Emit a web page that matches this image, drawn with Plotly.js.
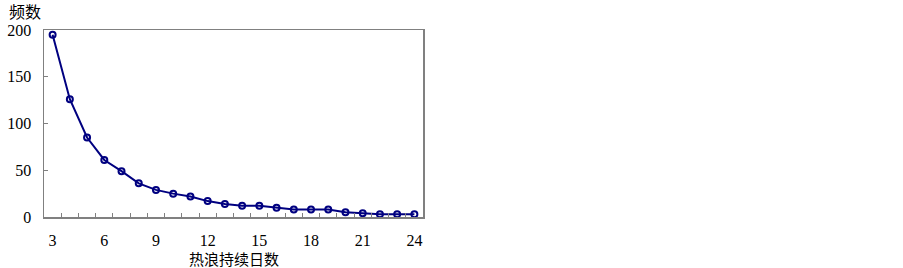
<!DOCTYPE html>
<html>
<head>
<meta charset="utf-8">
<script src="https://cdn.plot.ly/plotly-3.0.1.min.js"></script>
<style>html,body{margin:0;padding:0;background:#fff;}#chart{width:903px;height:268px;}</style>
</head>
<body>
<div id="chart"></div>
<script>
// Heat wave duration (days) and frequency
const durationDays = [3,4,5,6,7,8,9,10,11,12,13,14,15,16,17,18,19,20,21,22,23,24];
const frequency    = [195,126,85,61,49,36,29,25,22,17,14,12,12,10,8,8,8,5,4,3,3,3];
const xTickLabels  = ['3','6','9','12','15','18','21','24'];
const yTickLabels  = ['0','50','100','150','200'];
const xTitle = '热浪持续日数';
const yTitle = '频数';

const FONT = '"Liberation Serif", "Noto Sans CJK SC", serif';
const CJK = '"Noto Sans CJK SC", sans-serif';

const trace = {
  x: durationDays,
  y: frequency,
  type: 'scatter',
  mode: 'lines+markers',
  line: {color: '#000080', width: 2},
  marker: {symbol: 'circle-open', size: 6, color: '#000080', line: {width: 2, color: '#000080'}},
  hoverinfo: 'skip'
};

const layout = {
  width: 903, height: 268,
  margin: {l: 44, r: 480, t: 30, b: 51, pad: 0},
  paper_bgcolor: '#ffffff', plot_bgcolor: '#ffffff',
  showlegend: false,
  font: {family: FONT, size: 15, color: '#000'},
  xaxis: {
    range: [2.5, 24.5],
    tickmode: 'array',
    tickvals: xTickLabels.map(Number),
    ticktext: xTickLabels,
    ticks: '',
    ticklabelstandoff: 8,
    showgrid: false, zeroline: false,
    showline: true, mirror: true, linecolor: '#808080', linewidth: 1.5,
    tickfont: {family: FONT, size: 16, color: '#000'},
    minor: {tickmode: 'array', tickvals: durationDays.map(d => d + 0.5), ticks: 'inside', ticklen: 4, tickcolor: '#808080', tickwidth: 1, showgrid: false},
    fixedrange: true
  },
  yaxis: {
    range: [0, 200],
    tickmode: 'array',
    tickvals: yTickLabels.map(Number),
    ticktext: yTickLabels,
    ticks: 'inside', ticklen: 4, tickcolor: '#808080', tickwidth: 1,
    ticklabelstandoff: 8,
    showgrid: false, zeroline: false,
    showline: true, mirror: true, linecolor: '#808080', linewidth: 1.5,
    tickfont: {family: FONT, size: 16, color: '#000'},
    fixedrange: true
  },
  annotations: [{
    text: yTitle, xref: 'paper', yref: 'paper', x: 0, y: 1,
    xshift: -37, yshift: 19, xanchor: 'left', yanchor: 'middle', showarrow: false,
    font: {family: CJK, size: 16, color: '#000'}
  }, {
    text: xTitle, xref: 'paper', yref: 'paper', x: 0.5, y: 0,
    yshift: -41, xanchor: 'center', yanchor: 'middle', showarrow: false,
    font: {family: CJK, size: 15, color: '#000'}
  }]
};

Plotly.newPlot('chart', [trace], layout, {displayModeBar: false, staticPlot: true});
</script>
</body>
</html>
